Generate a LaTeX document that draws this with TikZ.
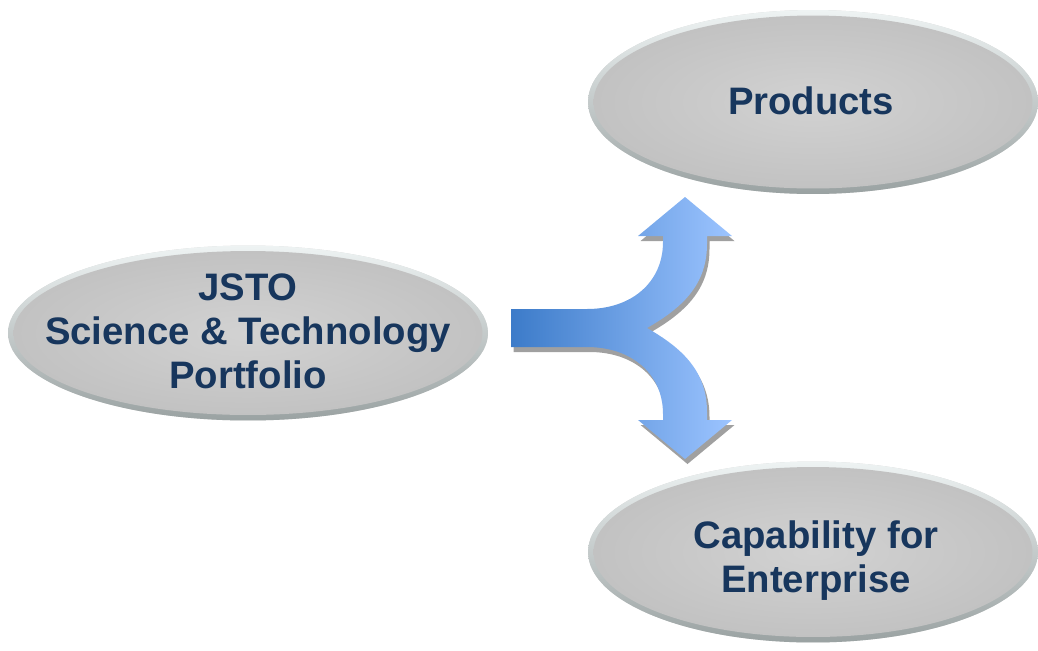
\documentclass[tikz,border=0pt]{standalone}
\usepackage{fontspec}
\setmainfont{Liberation Sans}
\definecolor{navy}{HTML}{17365D}
\definecolor{rimtop}{HTML}{EEF3F3}
\definecolor{rimbot}{HTML}{9AA2A2}
\definecolor{ellin}{HTML}{D2D2D2}
\definecolor{ellout}{HTML}{C2C2C2}
\definecolor{arrL}{HTML}{3C7BC9}
\definecolor{arrR}{HTML}{9CC4FF}
\tikzset{
  ellshadow/.style={fill=black!55, opacity=0.3, xshift=0.06cm, yshift=-0.10cm},
  ellrim/.style={top color=rimtop, bottom color=rimbot},
  ellbody/.style={inner color=ellin, outer color=ellout},
  elltext/.style={text=navy, align=center, inner sep=0pt,
     font=\fontsize{21.8}{25}\selectfont\bfseries},
}
\begin{document}
\begin{tikzpicture}[x=0.02cm, y=-0.02cm]
\useasboundingbox (0,0) rectangle (1038,650);
% ---- JSTO ellipse
\coordinate (cj) at (248,333);
\fill[ellshadow] (cj) ellipse [x radius=4.8cm, y radius=1.75cm];
\shade[ellrim] (cj) ellipse [x radius=4.8cm, y radius=1.75cm];
\shade[ellbody] (cj) ellipse [x radius=4.69cm, y radius=1.64cm];
\node[elltext] (jsto) at (248,331) {JSTO\\Science \& Technology\\Portfolio};
% ---- Products ellipse
\coordinate (cp) at (813,102);
\fill[ellshadow] (cp) ellipse [x radius=4.5cm, y radius=1.84cm];
\shade[ellrim] (cp) ellipse [x radius=4.5cm, y radius=1.84cm];
\shade[ellbody] (cp) ellipse [x radius=4.39cm, y radius=1.73cm];
\node[elltext] (prod) at (811,101) {Products};
% ---- Capability ellipse
\coordinate (cc) at (813,552);
\fill[ellshadow] (cc) ellipse [x radius=4.5cm, y radius=1.81cm];
\shade[ellrim] (cc) ellipse [x radius=4.5cm, y radius=1.81cm];
\shade[ellbody] (cc) ellipse [x radius=4.39cm, y radius=1.70cm];
\node[elltext] (cap) at (816,561) {Capability for\\Enterprise};
% ---- branching arrow
\def\arrowpath{(511,309) -- (587,309) .. controls (632,309) and (663,282) .. (663,242)
  -- (663,236) -- (638,236) -- (685,197) -- (732,236) -- (707,236) -- (707,244)
  .. controls (707,285) and (682,308) .. (647,328)
  .. controls (682,348) and (707,371) .. (707,412)
  -- (707,420) -- (732,420) -- (685,459) -- (638,420) -- (663,420) -- (663,414)
  .. controls (663,374) and (632,347) .. (587,347) -- (511,347) -- cycle}
\fill[black!50, opacity=0.75, xshift=0.05cm, yshift=-0.1cm] \arrowpath;
\shade[left color=arrL, right color=arrR] \arrowpath;
\end{tikzpicture}
\end{document}
